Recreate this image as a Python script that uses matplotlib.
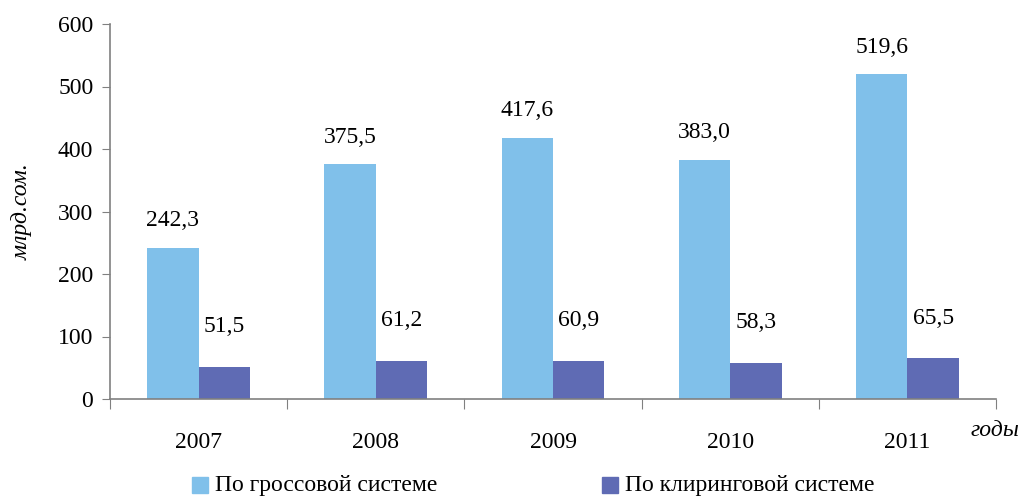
import numpy as np
import matplotlib.pyplot as plt
from matplotlib.patches import Rectangle

# Data
years = ['2007', '2008', '2009', '2010', '2011']
gross = [242.3, 375.5, 417.6, 383.0, 519.6]
clearing = [51.5, 61.2, 60.9, 58.3, 65.5]
gross_labels = ['242,3', '375,5', '417,6', '383,0', '519,6']
clearing_labels = ['51,5', '61,2', '60,9', '58,3', '65,5']

light = '#80C0EA'
dark = '#5F6BB4'
axis_col = '#808080'

plt.rcParams['font.family'] = ['Liberation Serif', 'DejaVu Serif']

fig = plt.figure(figsize=(10.21, 4.96), dpi=100)
ax = fig.add_axes([110 / 1021, 97 / 496, 886 / 1021, 375 / 496])

x = np.arange(len(years))
w = 0.29
ax.bar(x - w / 2, gross, w, color=light, zorder=2)
ax.bar(x + w / 2, clearing, w, color=dark, zorder=2)

for xi, v, s in zip(x, gross, gross_labels):
    ax.annotate(s, (xi - w / 2, v), xytext=(0, 27), textcoords='offset pixels',
                ha='center', va='center', fontsize=17)
for xi, v, s in zip(x, clearing, clearing_labels):
    ax.annotate(s, (xi + w / 2, v), xytext=(0, 40), textcoords='offset pixels',
                ha='center', va='center', fontsize=17)

ax.set_xlim(-0.5, len(years) - 0.5)
ax.set_ylim(0, 600)
ax.set_yticks(range(0, 601, 100))
ax.tick_params(axis='y', direction='out', length=6, color=axis_col, labelsize=17, pad=6)

ax.set_xticks(np.arange(-0.5, len(years), 1))
ax.set_xticklabels([])
ax.tick_params(axis='x', which='major', direction='out', length=7, color=axis_col)
ax.set_xticks(x, minor=True)
ax.set_xticklabels(years, minor=True)
ax.tick_params(axis='x', which='minor', length=0, labelsize=17, pad=24)

for side in ['top', 'right']:
    ax.spines[side].set_visible(False)
for side in ['left', 'bottom']:
    ax.spines[side].set_color(axis_col)
    ax.spines[side].set_linewidth(1.2)

ax.set_ylabel('млрд.сом.', fontsize=17, style='italic', labelpad=18)
fig.text(995 / 1021, 1 - 430 / 496, 'годы', fontsize=17, style='italic',
         ha='center', va='center')

# legend at the bottom
fig.patches.append(Rectangle((192 / 1021, 1 - 493 / 496), 16 / 1021, 16 / 496,
                             transform=fig.transFigure, color=light))
fig.text(215 / 1021, 1 - 486 / 496, 'По гроссовой системе', fontsize=17,
         ha='left', va='center')
fig.patches.append(Rectangle((602 / 1021, 1 - 493 / 496), 16 / 1021, 16 / 496,
                             transform=fig.transFigure, color=dark))
fig.text(625 / 1021, 1 - 486 / 496, 'По клиринговой системе', fontsize=17,
         ha='left', va='center')

fig.savefig('out.png', dpi=100)
